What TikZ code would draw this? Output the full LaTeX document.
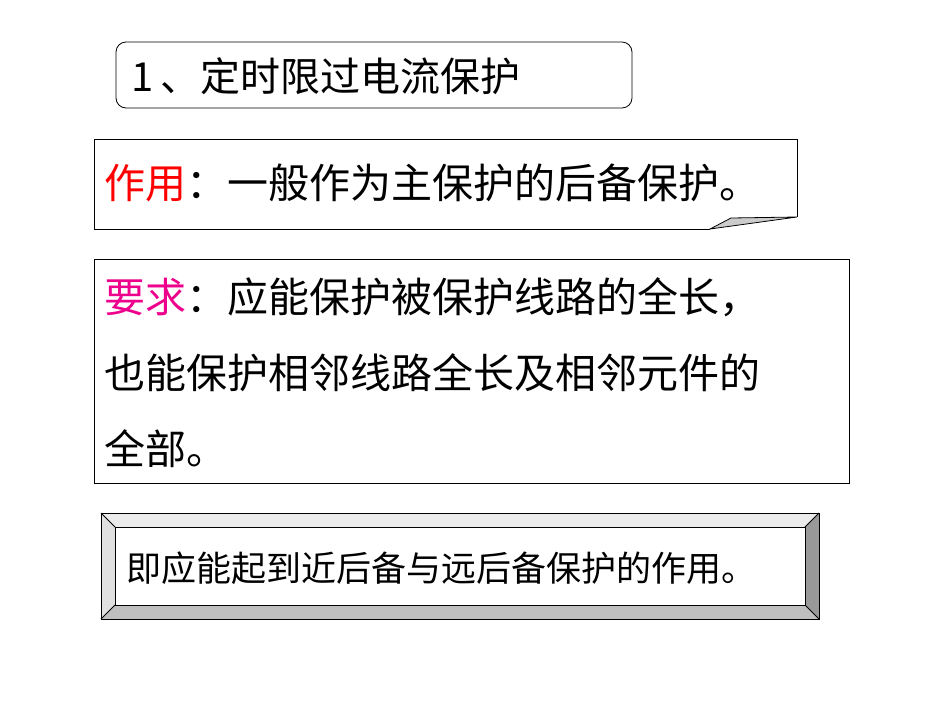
\documentclass[tikz,border=0pt]{standalone}
\usepackage{fontspec}
\newfontfamily\cjk{Noto Sans CJK SC}
\begin{document}
\begin{tikzpicture}[x=1pt,y=-1pt,
  txt/.style={anchor=west,inner sep=0pt,font=\cjk\fontsize{41}{46}\selectfont},
  box/.style={draw=black,line width=0.8pt}]
\useasboundingbox (0,0) rectangle (950,713);
% title
\draw[box,rounded corners=10pt] (116,42) rectangle (632,108);
\node[txt,font=\cjk\fontsize{40}{44}\selectfont] (t1) at (131,76) {1\,、定时限过电流保护};
% box 2 with folded corner
\draw[box] (710,229) -- (94,229) -- (94,139) -- (797,139) -- (797,217);
\draw[box,fill=black!20] (710,229) -- (731,218) -- (797,217) -- cycle;
\node[txt] (t2) at (104,183) {\textcolor{red}{作用}：一般作为主保护的后备保护。};
% box 3
\draw[box] (94,259) rectangle (849,483);
\node[txt] (t3a) at (104,297) {\textcolor{magenta}{要求}：应能保护被保护线路的全长，};
\node[txt] (t3b) at (104,373) {也能保护相邻线路全长及相邻元件的};
\node[txt] (t3c) at (104,449) {全部。};
% box 4 bevel
\fill[black!8] (101,513) -- (819,513) -- (805,527) -- (115,527) -- cycle;
\fill[black!12] (101,513) -- (115,527) -- (115,605) -- (101,619) -- cycle;
\fill[black!25] (101,619) -- (115,605) -- (805,605) -- (819,619) -- cycle;
\fill[black!40] (819,513) -- (805,527) -- (805,605) -- (819,619) -- cycle;
\draw[box] (101,513) rectangle (819,619);
\draw[box] (115,527) rectangle (805,605);
\draw[box] (101,513) -- (115,527) (819,513) -- (805,527) (101,619) -- (115,605) (819,619) -- (805,605);
\node[txt,font=\cjk\fontsize{35}{40}\selectfont] (t4) at (126,568) {即应能起到近后备与远后备保护的作用。};
\end{tikzpicture}
\end{document}
